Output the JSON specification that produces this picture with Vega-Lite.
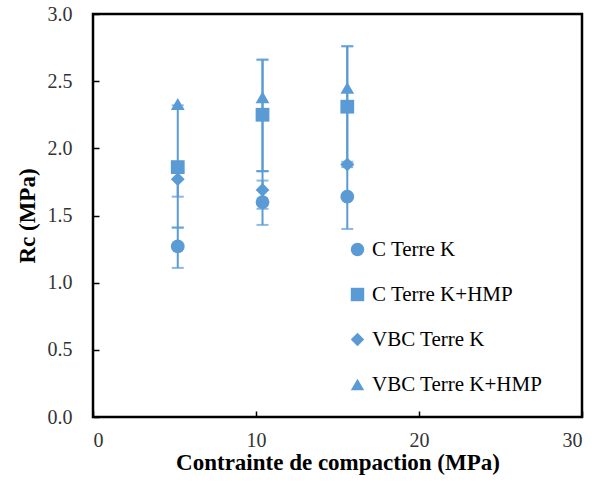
{
  "$schema": "https://vega.github.io/schema/vega-lite/v6.json",
  "width": 489,
  "height": 403,
  "autosize": "none",
  "padding": {"left": 93, "top": 14, "right": 20, "bottom": 71},
  "background": "white",
  "config": {
    "view": {"stroke": "black", "strokeWidth": 2.5},
    "font": "'Liberation Serif', serif",
    "axis": {"grid": false, "domain": false, "tickColor": "black", "tickWidth": 1.5, "tickSize": -6,
             "labelFont": "'Liberation Serif', serif", "labelFontSize": 20, "labelColor": "#333333",
             "titleFont": "'Liberation Serif', serif", "titleFontSize": 23, "titleFontWeight": "bold", "titleColor": "black"},
    "legend": {"labelFont": "'Liberation Serif', serif"}
  },
  "datasets": {
    "pts": [
      {"series": "C Terre K", "x": 5.2, "y": 1.27},
      {"series": "C Terre K+HMP", "x": 5.2, "y": 1.86},
      {"series": "VBC Terre K", "x": 5.2, "y": 1.77},
      {"series": "VBC Terre K+HMP", "x": 5.2, "y": 2.33},
      {"series": "C Terre K", "x": 10.4, "y": 1.6},
      {"series": "C Terre K+HMP", "x": 10.4, "y": 2.25},
      {"series": "VBC Terre K", "x": 10.4, "y": 1.69},
      {"series": "VBC Terre K+HMP", "x": 10.4, "y": 2.38},
      {"series": "C Terre K", "x": 15.6, "y": 1.64},
      {"series": "C Terre K+HMP", "x": 15.6, "y": 2.31},
      {"series": "VBC Terre K", "x": 15.6, "y": 1.88},
      {"series": "VBC Terre K+HMP", "x": 15.6, "y": 2.45}
    ],
    "errs": [
      {"series": "C Terre K", "x": 5.2, "lo": 1.11, "hi": 1.41},
      {"series": "C Terre K+HMP", "x": 5.2, "lo": 1.41, "hi": 2.32},
      {"series": "VBC Terre K", "x": 5.2, "lo": 1.64, "hi": 1.9},
      {"series": "C Terre K", "x": 10.4, "lo": 1.43, "hi": 1.76},
      {"series": "C Terre K+HMP", "x": 10.4, "lo": 1.83, "hi": 2.66},
      {"series": "VBC Terre K", "x": 10.4, "lo": 1.55, "hi": 1.83},
      {"series": "VBC Terre K+HMP", "x": 10.4, "lo": 1.83, "hi": 2.66},
      {"series": "C Terre K", "x": 15.6, "lo": 1.4, "hi": 1.88},
      {"series": "C Terre K+HMP", "x": 15.6, "lo": 1.88, "hi": 2.76},
      {"series": "VBC Terre K", "x": 15.6, "lo": 1.86, "hi": 1.9},
      {"series": "VBC Terre K+HMP", "x": 15.6, "lo": 1.88, "hi": 2.76}
    ]
  },
  "layer": [
    {
      "data": {"name": "errs"},
      "mark": {"type": "rule", "color": "#5B9BD5", "strokeWidth": 2},
      "encoding": {
        "x": {"field": "x", "type": "quantitative", "scale": {"domain": [0, 30]}},
        "y": {"field": "lo", "type": "quantitative", "scale": {"domain": [0, 3]}},
        "y2": {"field": "hi"}
      }
    },
    {
      "data": {"name": "errs"},
      "mark": {"type": "tick", "orient": "horizontal", "color": "#5B9BD5", "thickness": 2, "size": 12},
      "encoding": {
        "x": {"field": "x", "type": "quantitative"},
        "y": {"field": "lo", "type": "quantitative"}
      }
    },
    {
      "data": {"name": "errs"},
      "mark": {"type": "tick", "orient": "horizontal", "color": "#5B9BD5", "thickness": 2, "size": 12},
      "encoding": {
        "x": {"field": "x", "type": "quantitative"},
        "y": {"field": "hi", "type": "quantitative"}
      }
    },
    {
      "data": {"name": "pts"},
      "mark": {"type": "point", "filled": true, "opacity": 1, "color": "#5B9BD5", "size": 190},
      "encoding": {
        "x": {"field": "x", "type": "quantitative", "scale": {"domain": [0, 30]},
              "axis": {"values": [0, 10, 20, 30], "title": "Contrainte de compaction (MPa)", "labelPadding": 19, "titlePadding": 1}},
        "y": {"field": "y", "type": "quantitative", "scale": {"domain": [0, 3]},
              "axis": {"values": [0, 0.5, 1, 1.5, 2, 2.5, 3], "format": ".1f", "title": "Rc (MPa)", "labelPadding": 27, "titlePadding": 8}},
        "shape": {"field": "series", "type": "nominal",
                  "scale": {"domain": ["C Terre K", "C Terre K+HMP", "VBC Terre K", "VBC Terre K+HMP"],
                            "range": ["circle", "square", "diamond", "triangle-up"]},
                  "legend": {"title": null, "orient": "none", "legendX": 254, "legendY": 225,
                             "labelFont": "'Liberation Serif', serif", "labelFontSize": 21, "labelColor": "black",
                             "labelLimit": 400,
                             "symbolSize": 180, "symbolFillColor": "#5B9BD5", "symbolStrokeColor": "#5B9BD5",
                             "rowPadding": 23, "labelOffset": 4}}
      }
    }
  ]
}
